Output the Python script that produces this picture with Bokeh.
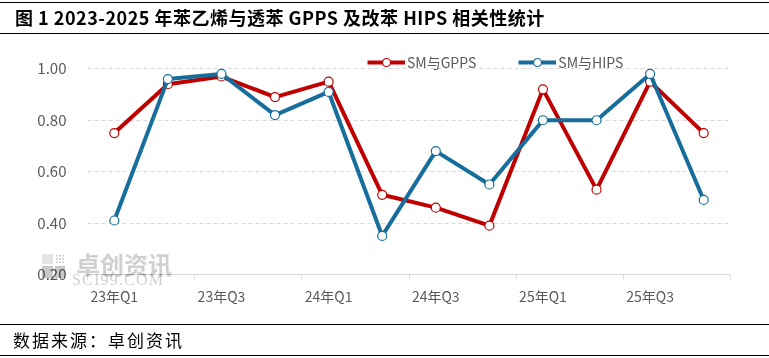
from bokeh.plotting import figure
from bokeh.models import (Range1d, FixedTicker, Legend, LegendItem, Div)
from bokeh.layouts import column
from bokeh.embed import file_html
from bokeh.resources import INLINE

# ---- data ----
categories = ["23年Q1", "23年Q2", "23年Q3", "23年Q4", "24年Q1", "24年Q2",
              "24年Q3", "24年Q4", "25年Q1", "25年Q2", "25年Q3", "25年Q4"]
sm_gpps = [0.75, 0.94, 0.97, 0.89, 0.95, 0.51, 0.46, 0.39, 0.92, 0.53, 0.95, 0.75]
sm_hips = [0.41, 0.96, 0.98, 0.82, 0.91, 0.35, 0.68, 0.55, 0.80, 0.80, 0.98, 0.49]
series_names = ["SM与GPPS", "SM与HIPS"]
y_ticks = [0.2, 0.4, 0.6, 0.8, 1.0]
y_tick_labels = ["0.20", "0.40", "0.60", "0.80", "1.00"]
title_text = "图 1 2023-2025 年苯乙烯与透苯 GPPS 及改苯 HIPS 相关性统计"
source_text = "数据来源：卓创资讯"
wm_cn, wm_en = "卓创资讯", "SCI99.COM"

FONT = "Noto Sans CJK SC"
GRAY = "#595959"
RED = "#C00000"
BLUE = "#176D9C"
W = 769

n = len(categories)
xs = list(range(n))

# ---- layout geometry (page pixels) ----
HEAD_H, FIG_H, FOOT_H = 35, 287, 36
FIG_TOP = HEAD_H
FOOT_TOP = HEAD_H + FIG_H
FR_L, FR_R, FR_T, FR_B = 87, 730, 45, 274  # plot frame
Y_TOP_PX = 68.3                            # pixel row of 1.00
unit_px = (FR_B - Y_TOP_PX) / (y_ticks[-1] - y_ticks[0])
y_max = y_ticks[-1] + (Y_TOP_PX - FR_T) / unit_px

header = Div(
    text=(f'<div style="box-sizing:border-box;width:{W}px;height:32px;margin-top:2px;'
          f'border-top:1.5px solid #000;border-bottom:1.5px solid #000;'
          f'padding-left:15px;line-height:29px;font-family:\'{FONT}\';'
          f'font-size:18px;letter-spacing:0.5px;font-weight:bold;color:#000;'
          f'white-space:nowrap;">{title_text}</div>'),
    width=W, height=HEAD_H, margin=0)

p = figure(width=W, height=FIG_H,
           x_range=Range1d(-0.5, n - 0.5),
           y_range=Range1d(y_ticks[0], y_max),
           output_backend="svg", toolbar_location=None,
           min_border_left=FR_L, min_border_right=W - FR_R,
           min_border_top=FR_T - FIG_TOP, min_border_bottom=FIG_TOP + FIG_H - FR_B,
           margin=0)
p.outline_line_color = None
p.background_fill_color = "white"
p.border_fill_color = "white"

# y axis
p.yaxis.ticker = FixedTicker(ticks=y_ticks)
p.yaxis.major_label_overrides = {t: l for t, l in zip(y_ticks, y_tick_labels)}
p.yaxis.axis_line_color = None
p.yaxis.major_tick_line_color = None
p.yaxis.minor_tick_line_color = None
p.yaxis.major_tick_out = 0
p.yaxis.major_tick_in = 0
p.yaxis.major_label_standoff = 21
p.yaxis.major_label_text_font = FONT
p.yaxis.major_label_text_font_size = "15px"
p.yaxis.major_label_text_color = GRAY

# x axis
p.xaxis.ticker = FixedTicker(ticks=xs[::2],
                             minor_ticks=[i - 0.5 for i in range(0, n + 1, 2)])
p.xaxis.major_label_overrides = {i: categories[i] for i in xs[::2]}
p.xaxis.axis_line_color = "#D9D9D9"
p.xaxis.axis_line_width = 1
p.xaxis.major_tick_line_color = None
p.xaxis.major_tick_out = 0
p.xaxis.major_tick_in = 0
p.xaxis.minor_tick_line_color = "#D9D9D9"
p.xaxis.minor_tick_out = 5
p.xaxis.minor_tick_in = 0
p.xaxis.major_label_standoff = 6
p.xaxis.major_label_text_font = FONT
p.xaxis.major_label_text_font_size = "14px"
p.xaxis.major_label_text_color = GRAY

# grid
p.xgrid.grid_line_color = None
p.ygrid.ticker = FixedTicker(ticks=y_ticks[1:])
p.ygrid.grid_line_color = "#D9D9D9"
p.ygrid.grid_line_dash = "4 3"
p.ygrid.grid_line_width = 1

# series
r1l = p.line(xs, sm_gpps, line_color=RED, line_width=4)
r1m = p.scatter(xs, sm_gpps, size=9, marker="circle", fill_color="white",
                line_color=RED, line_width=1.2)
r2l = p.line(xs, sm_hips, line_color=BLUE, line_width=4)
r2m = p.scatter(xs, sm_hips, size=9, marker="circle", fill_color="white",
                line_color=BLUE, line_width=1.2)

legend = Legend(items=[LegendItem(label=series_names[0], renderers=[r1l, r1m]),
                       LegendItem(label=series_names[1], renderers=[r2l, r2m])],
                orientation="horizontal", location=(367 - FR_L, FR_B - 72),
                glyph_width=38, glyph_height=20, label_standoff=2, spacing=42,
                padding=0, margin=0, border_line_color=None,
                background_fill_alpha=0, label_text_font=FONT,
                label_text_font_size="14px", label_text_color=GRAY)
p.add_layout(legend)


def box(left, top, w, h, color):
    return (f'<div style="position:absolute;left:{left}px;top:{top - FOOT_TOP}px;'
            f'width:{w}px;height:{h}px;background:{color};'
            f'mix-blend-mode:multiply;"></div>')


watermark = (
    box(42, 252, 11, 10, "#E4E4E4") + box(42, 264, 11, 12, "#C8C8C8") +
    box(55, 264, 10, 12, "#C8C8C8") +
    f'<div style="position:absolute;left:55px;top:{252 - FOOT_TOP}px;width:10px;'
    f'height:10px;background:radial-gradient(#C8C8C8 35%, transparent 40%);'
    f'background-size:3.3px 3.3px;mix-blend-mode:multiply;"></div>'
    f'<div style="position:absolute;left:76px;top:{251 - FOOT_TOP}px;'
    f'font-family:\'{FONT}\';font-size:24px;font-weight:bold;line-height:21px;'
    f'color:#D0D0D0;white-space:nowrap;mix-blend-mode:multiply;">{wm_cn}</div>'
    f'<div style="position:absolute;left:72px;top:{272 - FOOT_TOP}px;'
    f'font-family:\'Liberation Serif\';font-size:16px;line-height:11px;letter-spacing:1.2px;'
    f'color:#D0D0D0;white-space:nowrap;mix-blend-mode:multiply;">{wm_en}</div>'
)

footer = Div(
    text=(f'<div style="position:relative;width:{W}px;height:{FOOT_H}px;">'
          f'{watermark}'
          f'<div style="box-sizing:border-box;width:{W}px;height:32px;margin-top:2px;'
          f'border-top:1.5px solid #000;border-bottom:1.5px solid #000;'
          f'padding-left:13px;line-height:29px;font-family:\'{FONT}\';'
          f'font-size:17px;letter-spacing:2px;color:#000;white-space:nowrap;">'
          f'{source_text}</div></div>'),
    width=W, height=FOOT_H, margin=0)

layout = column(header, p, footer, spacing=0)
open("out.html", "w").write(file_html(layout, INLINE))
